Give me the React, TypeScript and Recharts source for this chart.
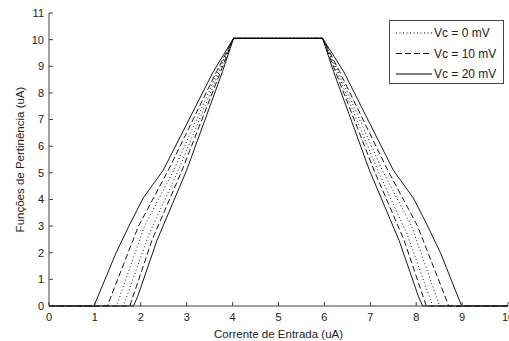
import React from 'react';
import { LineChart, Line, XAxis, YAxis, Legend } from 'recharts';

// Curves: [x, y] pairs (uA)
const solidOuter: [number, number][] = [
  [0, 0], [0.98, 0], [1.45, 1.95], [1.74, 3.0], [2.05, 4.05], [2.49, 5.1], [3.58, 8.8], [4.02, 10.05],
  [5.96, 10.05], [6.42, 8.8], [7.5, 5.1], [7.94, 4.05], [8.25, 3.0], [8.54, 1.95], [8.99, 0], [10, 0],
];
const solidInner: [number, number][] = [
  [0, 0], [1.84, 0], [1.93, 0.35], [2.35, 2.45], [3.0, 5.1], [3.78, 8.8], [4.02, 10.05],
  [5.96, 10.05], [6.2, 8.8], [6.98, 5.1], [7.63, 2.45], [8.05, 0.35], [8.14, 0], [10, 0],
];
const dashedOuter: [number, number][] = [
  [0, 0], [1.27, 0], [1.95, 3], [2.6, 5.1], [3.65, 8.8], [4.02, 10.05],
  [5.96, 10.05], [6.33, 8.8], [7.38, 5.1], [8.03, 3], [8.71, 0], [10, 0],
];
const dashedInner: [number, number][] = [
  [0, 0], [1.76, 0], [2.25, 2.5], [2.9, 5.1], [3.74, 8.8], [4.02, 10.05],
  [5.96, 10.05], [6.24, 8.8], [7.08, 5.1], [7.73, 2.5], [8.22, 0], [10, 0],
];
const dottedOuter: [number, number][] = [
  [0, 0], [1.47, 0], [2.08, 3], [2.72, 5.1], [3.68, 8.8], [4.02, 10.05],
  [5.96, 10.05], [6.3, 8.8], [7.26, 5.1], [7.9, 3], [8.51, 0], [10, 0],
];
const dottedInner: [number, number][] = [
  [0, 0], [1.62, 0], [2.18, 2.7], [2.82, 5.1], [3.71, 8.8], [4.02, 10.05],
  [5.96, 10.05], [6.27, 8.8], [7.16, 5.1], [7.8, 2.7], [8.36, 0], [10, 0],
];

const xTicks = [0, 1, 2, 3, 4, 5, 6, 7, 8, 9, 10];
const yTicks = [0, 1, 2, 3, 4, 5, 6, 7, 8, 9, 10, 11];

const legendLabels = ['Vc = 0 mV', 'Vc = 10 mV', 'Vc = 20 mV'];
const legendDashes = ['1 2.5', '6 3', ''];

const toPts = (arr: [number, number][]) => arr.map(([x, y]) => ({ x, y }));

const series = [
  { key: 'p1', data: toPts(dottedOuter), dash: '1 2.5', name: legendLabels[0], legend: true },
  { key: 'p2', data: toPts(dottedInner), dash: '1 2.5', name: legendLabels[0] + ' b', legend: false },
  { key: 'd1', data: toPts(dashedOuter), dash: '6 3', name: legendLabels[1], legend: true },
  { key: 'd2', data: toPts(dashedInner), dash: '6 3', name: legendLabels[1] + ' b', legend: false },
  { key: 's1', data: toPts(solidOuter), dash: '', name: legendLabels[2], legend: true },
  { key: 's2', data: toPts(solidInner), dash: '', name: legendLabels[2] + ' b', legend: false },
];

const AXIS = '#444';
const TXT = '#222';

const LegendBox = () => (
  <div
    style={{
      width: 113,
      height: 62,
      border: `1px solid ${AXIS}`,
      background: '#fff',
      fontFamily: 'Liberation Sans, Arial, sans-serif',
    }}
  >
    <svg width={113} height={62}>
      {legendLabels.map((lab, i) => {
        const cy = 12 + i * 20.5;
        return (
          <g key={lab}>
            <line x1={6} x2={42} y1={cy} y2={cy} stroke="#000" strokeWidth={1} strokeDasharray={legendDashes[i] || undefined} />
            <text x={44} y={cy + 4} fontSize={12} fill={TXT}>{lab}</text>
          </g>
        );
      })}
    </svg>
  </div>
);

export default function App() {
  return (
    <div style={{ position: 'absolute', left: 0, top: 0, background: '#fff', fontFamily: 'Liberation Sans, Arial, sans-serif' }}>
      <LineChart width={509} height={341} margin={{ top: 13, right: 1, bottom: 0, left: 0 }}>
        <XAxis
          xAxisId="b"
          type="number"
          dataKey="x"
          domain={[0, 10]}
          ticks={xTicks}
          interval={0}
          height={35}
          tickSize={-4}
          tickMargin={11}
          stroke={AXIS}
          tick={{ fill: TXT, fontSize: 11 }}
          allowDataOverflow
          label={{ value: 'Corrente de Entrada (uA)', position: 'center', dy: 10, fill: TXT, fontSize: 11.5 }}
        />
        <XAxis
          xAxisId="t"
          orientation="top"
          type="number"
          dataKey="x"
          domain={[0, 10]}
          ticks={xTicks}
          interval={0}
          height={0}
          tickSize={-4}
          tick={false}
          stroke={AXIS}
        />
        <YAxis
          yAxisId="l"
          type="number"
          domain={[0, 11]}
          ticks={yTicks}
          interval={0}
          width={49}
          tickSize={-4}
          tickMargin={9}
          stroke={AXIS}
          tick={{ fill: TXT, fontSize: 11 }}
          label={{ value: 'Funções de Pertinência (uA)', angle: -90, position: 'center', dx: -5, fill: TXT, fontSize: 11.5 }}
        />
        <YAxis
          yAxisId="r"
          orientation="right"
          type="number"
          domain={[0, 11]}
          ticks={yTicks}
          interval={0}
          width={0}
          tickSize={-4}
          tick={false}
          stroke={AXIS}
        />
        <Legend
          layout="horizontal"
          verticalAlign="middle"
          align="center"
          content={() => <LegendBox />}
          wrapperStyle={{ position: 'absolute', left: 389, top: 20, width: 115, height: 64 }}
        />
        {series.map((s) => (
          <Line
            key={s.key}
            xAxisId="b"
            yAxisId="l"
            data={s.data}
            dataKey="y"
            name={s.name}
            type="linear"
            stroke="#000"
            strokeWidth={0.9}
            strokeDasharray={s.dash || undefined}
            dot={false}
            activeDot={false}
            legendType={s.legend ? 'line' : 'none'}
            isAnimationActive={false}
          />
        ))}
      </LineChart>
    </div>
  );
}
